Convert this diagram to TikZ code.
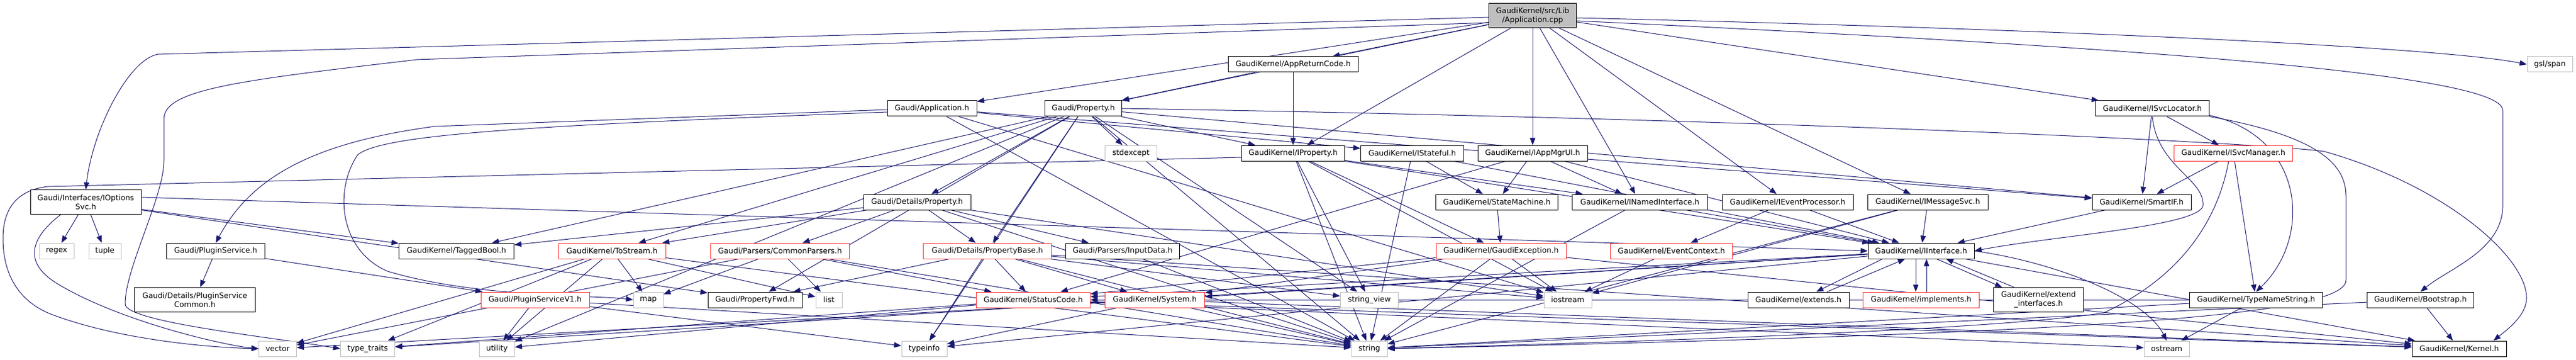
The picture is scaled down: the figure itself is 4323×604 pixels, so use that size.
\documentclass[tikz,border=0pt]{standalone}
\usepackage{fontspec}
\setmainfont{DejaVu Sans}
\usetikzlibrary{arrows.meta,backgrounds}
\definecolor{edgec}{HTML}{191970}
\definecolor{grayb}{HTML}{BFBFBF}
\definecolor{redb}{HTML}{FF3030}
\tikzset{
 nd/.style={draw=black, line width=1pt, fill=white, rectangle, inner sep=0pt, minimum height=26pt, align=center, font=\fontsize{12.7}{15}\selectfont, text=black},
 nd2/.style={nd, minimum height=41pt},
 sys/.style={nd, draw=grayb},
 trunc/.style={nd, draw=redb},
 rootn/.style={nd2, fill=grayb},
 edge/.style={draw=edgec, line width=1pt, -{Triangle[length=12pt,width=9pt]}},
}
\newcommand\edgeAB[2]{\draw[edge] (#1) -- (#2);}
\begin{document}
\begin{tikzpicture}[x=1pt,y=-1pt]
\useasboundingbox (0,0) rectangle (4323,604);
% nodes
\node[rootn, minimum width=147] (root) at (2572,26) {GaudiKernel/src/Lib\\/Application.cpp};
\node[nd, minimum width=218] (arc) at (2170,108) {GaudiKernel/AppReturnCode.h};
\node[sys, minimum width=76] (gsl) at (4279,108) {gsl/span};
\node[nd, minimum width=150] (app) at (1564,182) {Gaudi/Application.h};
\node[nd, minimum width=129] (prop) at (1818,182) {Gaudi/Property.h};
\node[nd, minimum width=191] (isvcloc) at (3612,182) {GaudiKernel/ISvcLocator.h};
\node[nd, minimum width=173] (iprop) at (2170,257) {GaudiKernel/IProperty.h};
\node[sys, minimum width=87] (stdexcept) at (1898,257) {stdexcept};
\node[nd, minimum width=173] (istateful) at (2370,257) {GaudiKernel/IStateful.h};
\node[nd, minimum width=184] (iappmgr) at (2572,257) {GaudiKernel/IAppMgrUI.h};
\node[trunc, minimum width=199] (isvcmgr) at (3748,257) {GaudiKernel/ISvcManager.h};
\node[nd2, minimum width=186] (iopt) at (144,339) {Gaudi/Interfaces/IOptions\\Svc.h};
\node[nd, minimum width=180] (detprop) at (1539,339) {Gaudi/Details/Property.h};
\node[nd, minimum width=205] (statem) at (2512,339) {GaudiKernel/StateMachine.h};
\node[nd, minimum width=227] (inamed) at (2752,339) {GaudiKernel/INamedInterface.h};
\node[nd, minimum width=220] (ievt) at (3000,339) {GaudiKernel/IEventProcessor.h};
\node[nd, minimum width=202] (imsg) at (3235,339) {GaudiKernel/IMessageSvc.h};
\node[nd, minimum width=166] (smartif) at (3594,339) {GaudiKernel/SmartIF.h};
\node[sys, minimum width=58] (regex) at (95,421) {regex};
\node[sys, minimum width=54] (tuple) at (176,421) {tuple};
\node[nd, minimum width=165] (plugin) at (362,421) {Gaudi/PluginService.h};
\node[nd, minimum width=193] (tagged) at (766,421) {GaudiKernel/TaggedBool.h};
\node[trunc, minimum width=180] (tostream) at (1027,421) {GaudiKernel/ToStream.h};
\node[trunc, minimum width=233] (cparsers) at (1309,421) {Gaudi/Parsers/CommonParsers.h};
\node[trunc, minimum width=215] (propbase) at (1657,421) {Gaudi/Details/PropertyBase.h};
\node[nd, minimum width=191] (inputdata) at (1884,421) {Gaudi/Parsers/InputData.h};
\node[trunc, minimum width=218] (gexc) at (2519,421) {GaudiKernel/GaudiException.h};
\node[trunc, minimum width=205] (evtctx) at (2805,421) {GaudiKernel/EventContext.h};
\node[nd, minimum width=178] (iinterface) at (3224,421) {GaudiKernel/IInterface.h};
\node[nd2, minimum width=203] (plugincommon) at (327,503) {Gaudi/Details/PluginService\\Common.h};
\node[trunc, minimum width=182] (pluginv1) at (898,503) {Gaudi/PluginServiceV1.h};
\node[sys, minimum width=50] (map) at (1088,503) {map};
\node[nd, minimum width=158] (propfwd) at (1267,503) {Gaudi/PropertyFwd.h};
\node[sys, minimum width=44] (list) at (1391,503) {list};
\node[trunc, minimum width=191] (statuscode) at (1734,503) {GaudiKernel/StatusCode.h};
\node[trunc, minimum width=167] (system) at (1938,503) {GaudiKernel/System.h};
\node[sys, minimum width=97] (strview) at (2298,503) {string\_view};
\node[sys, minimum width=80] (iostream) at (2631,503) {iostream};
\node[nd, minimum width=170] (extends) at (3018,503) {GaudiKernel/extends.h};
\node[trunc, minimum width=195] (implements) at (3224,503) {GaudiKernel/implements.h};
\node[nd2, minimum width=151] (extendif) at (3421,503) {GaudiKernel/extend\\\_interfaces.h};
\node[nd, minimum width=223] (typename) at (3786,503) {GaudiKernel/TypeNameString.h};
\node[nd, minimum width=179] (boot) at (4062,503) {GaudiKernel/Bootstrap.h};
\node[sys, minimum width=63] (vector) at (466,585) {vector};
\node[sys, minimum width=91] (typetraits) at (617,585) {type\_traits};
\node[sys, minimum width=59] (utility) at (834,585) {utility};
\node[sys, minimum width=76] (typeinfo) at (1551,585) {typeinfo};
\node[sys, minimum width=60] (string) at (2298,585) {string};
\node[sys, minimum width=76] (ostream) at (3636,585) {ostream};
\node[nd, minimum width=158] (kernel) at (4127,585) {GaudiKernel/Kernel.h};
% edges
\begin{pgfonlayer}{background}
\fill[white] (0,0) rectangle (4323,604);
% root
\edgeAB{root}{app}
\edgeAB{root}{prop}
\edgeAB{root}{arc}
\edgeAB{root}{iappmgr}
\edgeAB{root}{ievt}
\edgeAB{root}{imsg}
\edgeAB{root}{iprop}
\edgeAB{root}{isvcloc}
\edgeAB{root}{inamed}
\draw[edge] ([yshift=-4pt]root.east) .. controls (3500,50) and (4100,80) .. (gsl.west);
\draw[edge] ([yshift=-3pt]root.west) -- (265,91) .. controls (215,100) and (155,220) .. (iopt.north);
\draw[edge] ([yshift=-12pt]root.west) -- (700,100) .. controls (400,135) and (275,150) .. (275,200) -- (275,270) .. controls (275,330) and (210,450) .. (210,510) .. controls (210,540) and (450,565) .. (typetraits.west);
\draw[edge] ([yshift=-9pt]root.east) .. controls (3500,75) and (4200,120) .. (4200,185) -- (4200,345) .. controls (4200,420) and (4110,450) .. (boot.north);
% arc
\edgeAB{arc}{prop}
\edgeAB{arc}{iprop}
% app
\draw[edge] ([yshift=-2pt]app.west) -- (730,212) .. controls (520,240) and (420,300) .. (plugin.north);
\draw[edge] ([yshift=-6pt]app.west) .. controls (900,210) and (640,225) .. (600,260) .. controls (560,320) and (570,420) .. (650,455) .. controls (800,500) and (1000,495) .. (map.west);
\edgeAB{app}{istateful}
\edgeAB{app}{smartif}
\edgeAB{app}{string}
\edgeAB{app}{iostream}
% prop
\edgeAB{prop}{detprop}
\edgeAB{prop}{propbase}
\edgeAB{prop}{propfwd}
\edgeAB{prop}{iprop}
\edgeAB{prop}{smartif}
\edgeAB{prop}{tagged}
\edgeAB{prop}{tostream}
\edgeAB{prop}{stdexcept}
\edgeAB{prop}{string}
\edgeAB{prop}{strview}
\edgeAB{prop}{typeinfo}
\edgeAB{prop}{utility}
\draw[edge] (prop.east) .. controls (3000,200) and (3800,240) .. (3900,254) .. controls (4100,310) and (4240,430) .. (4240,500) .. controls (4240,530) and (4205,555) .. ([xshift=-22pt]kernel.north east);
% iopt
\edgeAB{iopt}{regex}
\edgeAB{iopt}{tuple}
\draw[edge] ([xshift=-42pt]iopt.south) .. controls (50,400) and (40,440) .. (93,474) .. controls (200,540) and (380,580) .. (vector.west);
\edgeAB{iopt}{tagged}
\edgeAB{iopt}{propfwd}
\draw[edge] ([yshift=8pt]iopt.east) -- (iinterface.west);
% plugin
\edgeAB{plugin}{plugincommon}
\edgeAB{plugin}{pluginv1}
\edgeAB{pluginv1}{utility}
\edgeAB{pluginv1}{string}
\edgeAB{pluginv1}{typeinfo}
% iprop
\draw[edge] ([yshift=-7pt]iprop.west) -- (80,313) .. controls (20,320) and (5,360) .. (5,400) .. controls (5,470) and (40,510) .. (88,528) .. controls (200,570) and (350,583) .. (vector.west);
\edgeAB{iprop}{strview}
\edgeAB{iprop}{string}
\edgeAB{iprop}{iostream}
\edgeAB{iprop}{inamed}
\edgeAB{iprop}{iinterface}
\edgeAB{iprop}{gexc}
% istateful
\edgeAB{istateful}{iinterface}
\edgeAB{istateful}{statem}
\edgeAB{istateful}{string}
% iappmgr
\edgeAB{iappmgr}{statuscode}
\edgeAB{iappmgr}{statem}
\edgeAB{iappmgr}{inamed}
\edgeAB{iappmgr}{iinterface}
\edgeAB{statem}{gexc}
\edgeAB{inamed}{iinterface}
\edgeAB{inamed}{string}
\edgeAB{ievt}{evtctx}
\edgeAB{ievt}{iinterface}
\edgeAB{imsg}{iinterface}
\edgeAB{imsg}{iostream}
\edgeAB{imsg}{string}
% isvcloc
\edgeAB{isvcloc}{smartif}
\edgeAB{isvcloc}{isvcmgr}
\draw[edge] (isvcloc.south) .. controls (3620,280) and (3700,300) .. (3697,345) .. controls (3690,380) and (3450,395) .. (iinterface.east);
\draw[edge] ([yshift=2pt]isvcloc.south east) .. controls (3870,230) and (3880,400) .. (typename.north);
\draw[edge] (isvcloc.south east) .. controls (3900,230) and (3937,280) .. (3937,330) -- (3937,470) .. controls (3937,530) and (3500,560) .. (string.east);
\edgeAB{isvcmgr}{smartif}
\edgeAB{isvcmgr}{typename}
\draw[edge] ([xshift=-8pt]isvcmgr.south) .. controls (3720,380) and (3650,470) .. (3530,525) .. controls (3300,560) and (2500,580) .. (string.east);
\edgeAB{smartif}{iinterface}
% detprop
\edgeAB{detprop}{propbase}
\edgeAB{detprop}{inputdata}
\edgeAB{detprop}{cparsers}
\edgeAB{detprop}{tostream}
\edgeAB{detprop}{tagged}
\edgeAB{detprop}{string}
\edgeAB{detprop}{iostream}
% propbase
\edgeAB{propbase}{propfwd}
\edgeAB{propbase}{statuscode}
\edgeAB{propbase}{system}
\edgeAB{propbase}{typeinfo}
\edgeAB{propbase}{string}
\edgeAB{propbase}{strview}
\edgeAB{propbase}{iostream}
\edgeAB{propbase}{kernel}
\edgeAB{inputdata}{string}
% cparsers
\edgeAB{cparsers}{map}
\edgeAB{cparsers}{list}
\edgeAB{cparsers}{vector}
\edgeAB{cparsers}{statuscode}
\edgeAB{cparsers}{string}
% tostream
\edgeAB{tostream}{map}
\edgeAB{tostream}{list}
\edgeAB{tostream}{vector}
\edgeAB{tostream}{utility}
\edgeAB{tostream}{typetraits}
\edgeAB{tostream}{string}
% gexc
\edgeAB{gexc}{string}
\edgeAB{gexc}{iostream}
\edgeAB{gexc}{statuscode}
\edgeAB{gexc}{system}
\edgeAB{gexc}{kernel}
\edgeAB{evtctx}{iostream}
% iinterface
\draw[edge] ([xshift=-65pt]iinterface.south) -- ([xshift=30pt]extends.north);
\draw[edge] ([xshift=48pt]extends.north) -- ([xshift=-27pt]iinterface.south);
\draw[edge] ([xshift=-9pt]iinterface.south) -- ([xshift=-9pt]implements.north);
\draw[edge] ([xshift=9pt]implements.north) -- ([xshift=9pt]iinterface.south);
\draw[edge] ([xshift=26pt]iinterface.south) -- ([xshift=-61pt]extendif.north);
\draw[edge] ([xshift=-41pt]extendif.north) -- ([xshift=42pt]iinterface.south);
\edgeAB{iinterface}{kernel}
\edgeAB{iinterface}{statuscode}
\edgeAB{iinterface}{system}
\draw[edge] (iinterface.east) .. controls (3450,440) and (3600,500) .. (ostream.north);
\edgeAB{iinterface}{typetraits}
\edgeAB{iinterface}{typeinfo}
% rest
\edgeAB{typename}{statuscode}
\edgeAB{typename}{string}
\edgeAB{typename}{ostream}
\edgeAB{boot}{kernel}
\edgeAB{boot}{string}
\edgeAB{statuscode}{kernel}
\edgeAB{statuscode}{ostream}
\edgeAB{statuscode}{typetraits}
\edgeAB{statuscode}{utility}
\edgeAB{system}{typeinfo}
\edgeAB{system}{string}
\edgeAB{system}{kernel}
\edgeAB{system}{vector}
\end{pgfonlayer}
\end{tikzpicture}
\end{document}
